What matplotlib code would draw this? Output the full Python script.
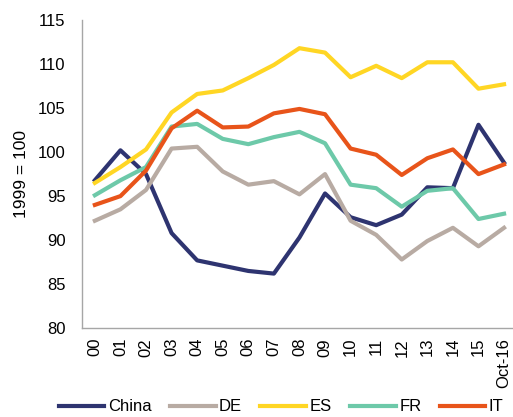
import matplotlib
matplotlib.use('Agg')
import matplotlib.pyplot as plt

plt.rcParams['font.family'] = ['Liberation Sans', 'DejaVu Sans']

## Data
years = ['00', '01', '02', '03', '04', '05', '06', '07', '08', '09',
         '10', '11', '12', '13', '14', '15', 'Oct-16']

china = [96.8, 100.2, 97.5, 90.8, 87.7, 87.1, 86.5, 86.2, 90.3, 95.3,
         92.6, 91.7, 92.9, 96.0, 95.9, 103.1, 98.8]
de = [92.2, 93.5, 95.7, 100.4, 100.6, 97.8, 96.3, 96.7, 95.2, 97.5,
      92.2, 90.6, 87.8, 89.9, 91.4, 89.3, 91.4]
es = [96.5, 98.3, 100.3, 104.5, 106.6, 107.0, 108.4, 109.9, 111.8, 111.3,
      108.5, 109.8, 108.4, 110.2, 110.2, 107.2, 107.7]
fr = [95.1, 96.8, 98.3, 102.9, 103.2, 101.5, 100.9, 101.7, 102.3, 101.0,
      96.3, 95.9, 93.8, 95.6, 95.9, 92.4, 93.0]
it = [94.0, 95.0, 97.9, 102.7, 104.7, 102.8, 102.9, 104.4, 104.9, 104.3,
      100.4, 99.7, 97.4, 99.3, 100.3, 97.5, 98.6]

series = [('China', china, '#2E3470'),
          ('DE', de, '#B8ABA3'),
          ('ES', es, '#FFD624'),
          ('FR', fr, '#6DC9A9'),
          ('IT', it, '#E8541A')]

## Plotting
fig = plt.figure(figsize=(5.13, 4.17), dpi=100)
ax = fig.add_axes([0.16, 0.213, 0.84, 0.739])

x = range(len(years))
for name, vals, col in series:
    ax.plot(x, vals, color=col, lw=3, label=name)

ax.set_xlim(-0.5, 16.35)
ax.set_ylim(80, 115)
ax.set_yticks(range(80, 116, 5))
ax.set_xticks(list(x))
ax.set_xticklabels(years, rotation=90, fontsize=12)
ax.tick_params(axis='y', labelsize=12, length=0, pad=12)
ax.tick_params(axis='x', length=0, pad=7)
ax.set_ylabel('1999 = 100', fontsize=12.5, labelpad=6)

for s in ['top', 'right']:
    ax.spines[s].set_visible(False)
for s in ['left', 'bottom']:
    ax.spines[s].set_color('#A6A6A6')
    ax.spines[s].set_linewidth(1)

fig.legend(loc='center', bbox_to_anchor=(0.548, 0.024), ncol=5, frameon=False,
           fontsize=12, handlelength=2.75, handletextpad=0.2, columnspacing=1.1)

fig.savefig('out.png', dpi=100)
